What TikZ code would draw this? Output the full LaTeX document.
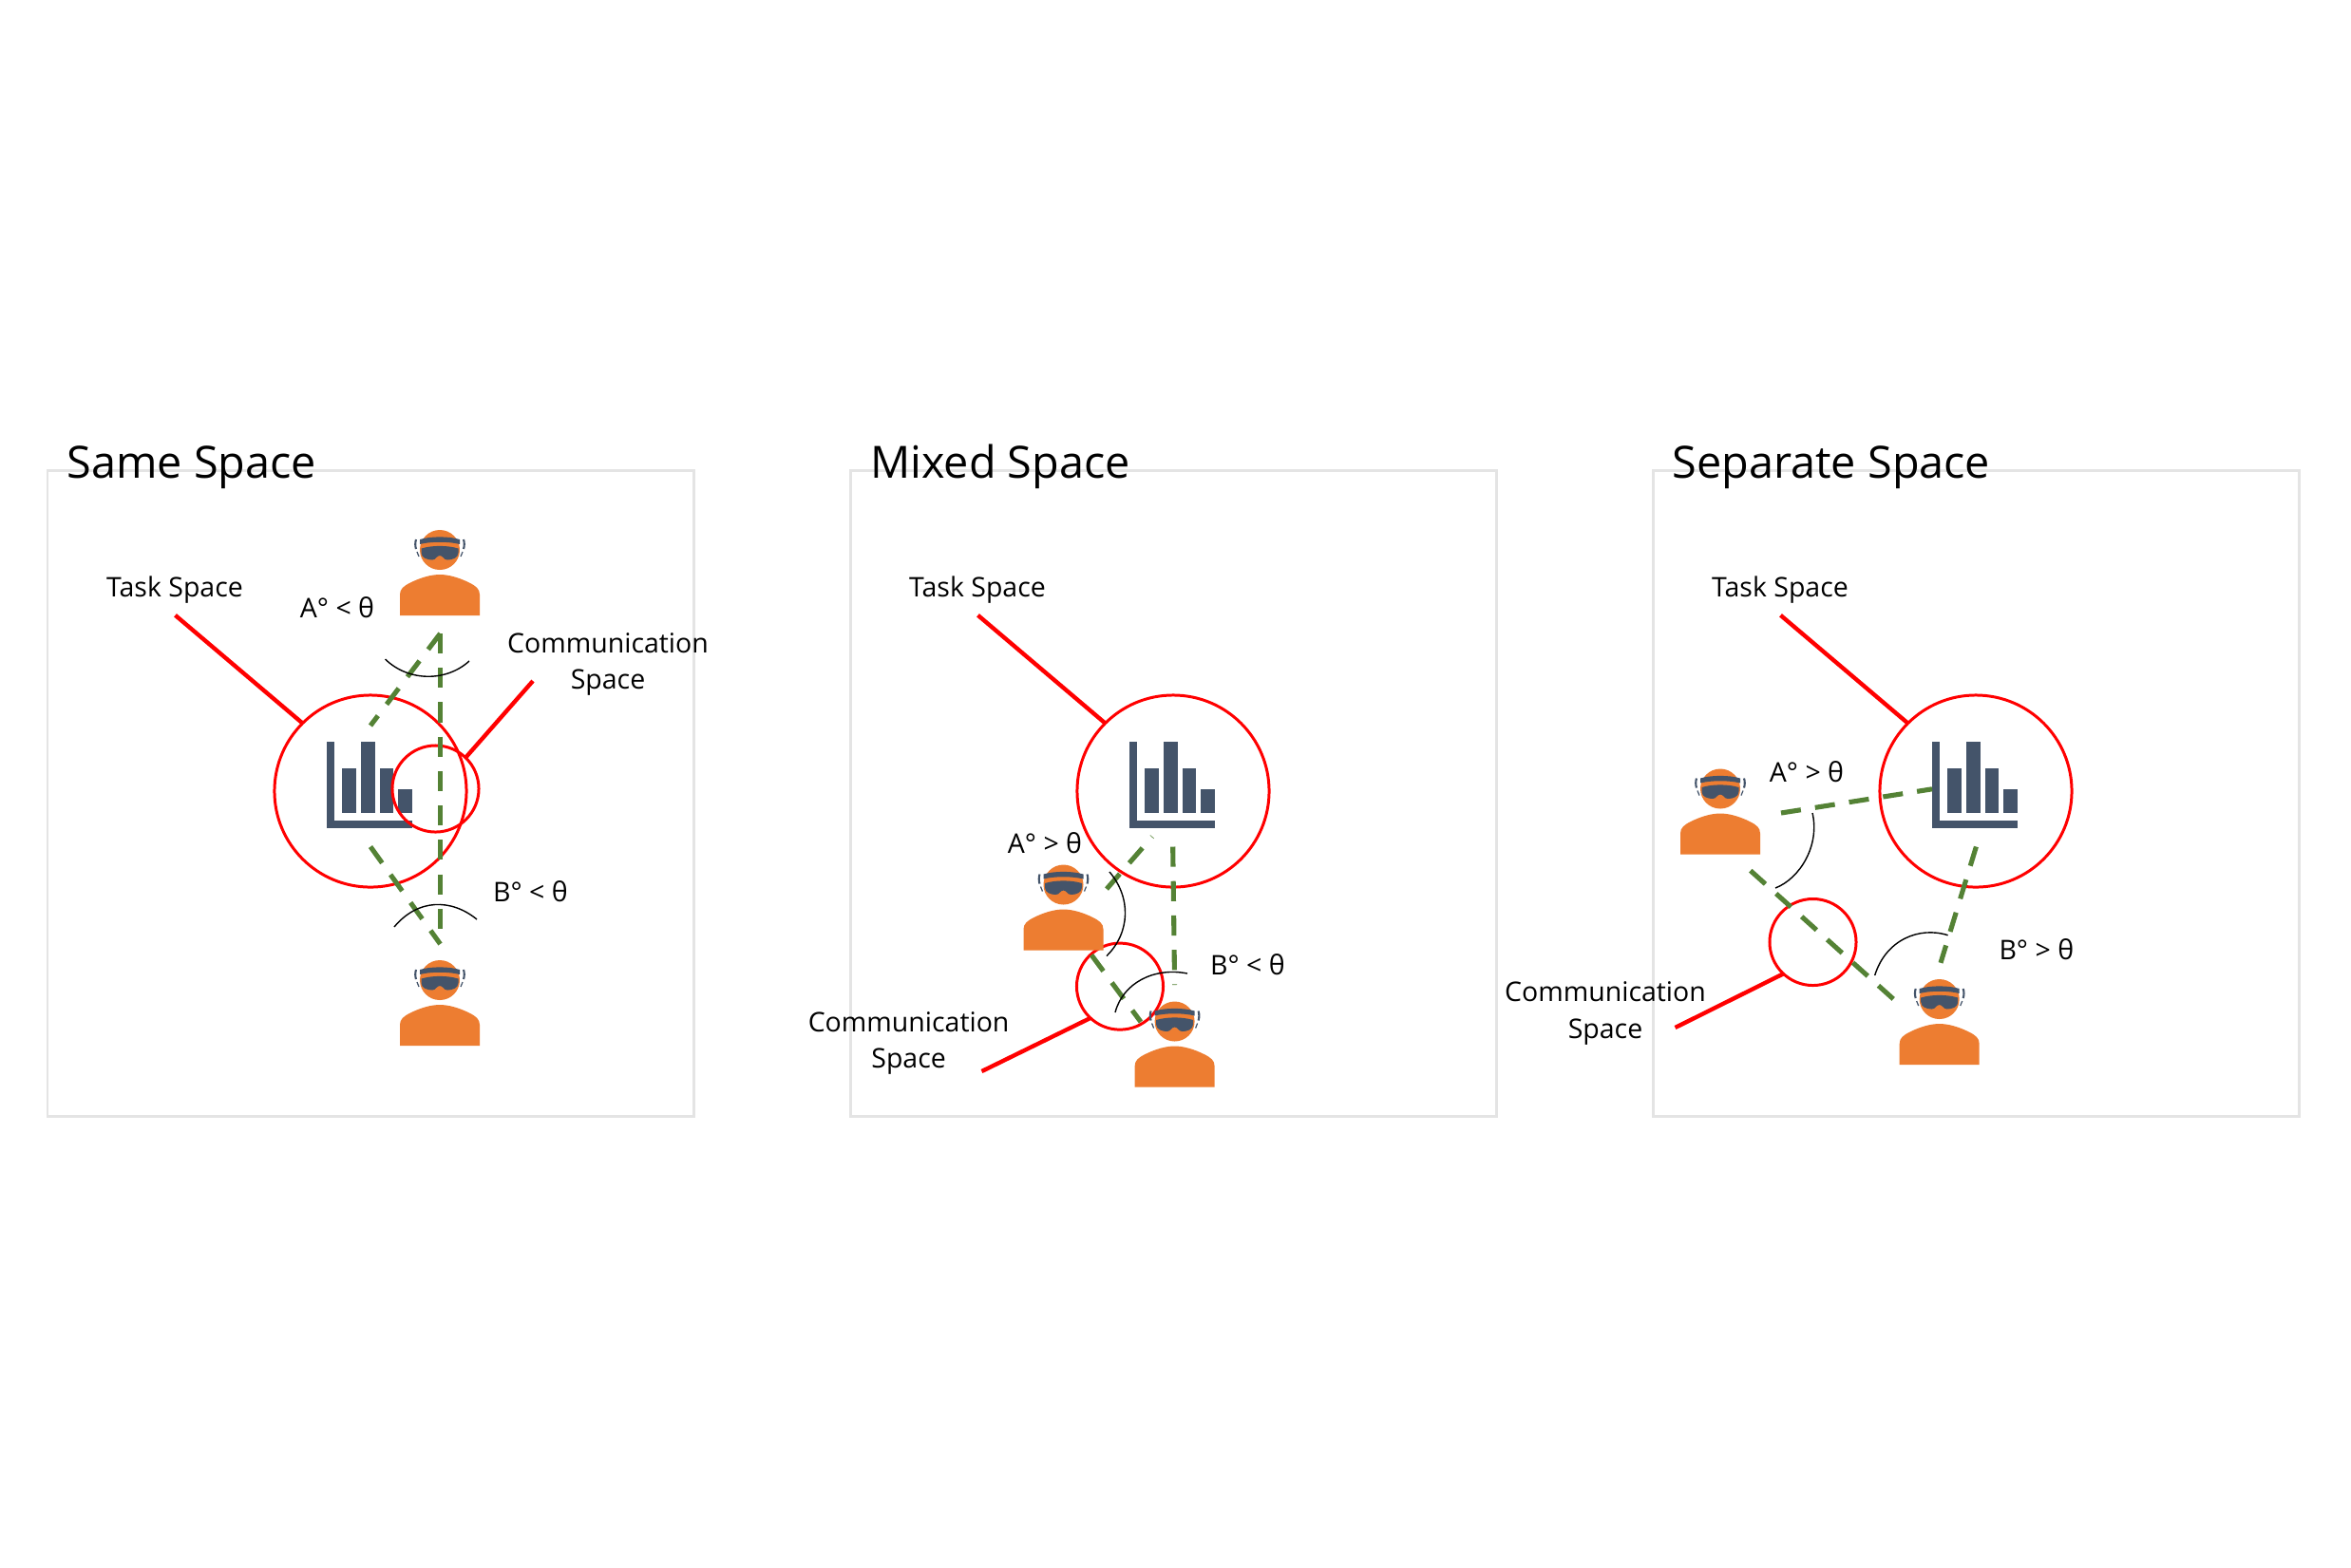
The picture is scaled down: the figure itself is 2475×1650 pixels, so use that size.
\documentclass[tikz,border=0pt]{standalone}
\usepackage{fontspec}
\setmainfont{Open Sans}
\definecolor{orangeP}{HTML}{ED7D31}
\definecolor{slateP}{HTML}{44546A}
\definecolor{greenP}{HTML}{548235}
\definecolor{grayP}{HTML}{E4E4E4}
\tikzset{
  panelbox/.style={draw=grayP,line width=0.85pt},
  titletext/.style={font=\fontsize{13.3}{16}\selectfont,anchor=base west,inner sep=0pt},
  labeltext/.style={font=\fontsize{8.1}{11.04}\selectfont,inner sep=0pt,align=center},
  anglelabel/.style={labeltext,anchor=base},
  spacecircle/.style={draw=red,line width=0.85pt,circle,inner sep=0pt,outer sep=0pt,fill=none},
  taskcircle/.style={spacecircle,minimum size=2.02cm},
  commcircle/.style={spacecircle,minimum size=0.91cm},
  leader/.style={draw=red,line width=1.25pt},
  gaze/.style={draw=greenP,line width=1.45pt,dash pattern=on 6pt off 4.3pt},
  anglearc/.style={draw=black,line width=0.4pt},
  person/.pic={
    \fill[orangeP] (-42,69) -- (-42,47) .. controls (-42,41) and (-38,38) .. (-31,34.5)
      .. controls (-20,29) and (-9,26) .. (0,26)
      .. controls (9,26) and (20,29) .. (31,34.5)
      .. controls (38,38) and (42,41) .. (42,47) -- (42,69) -- cycle;
    \fill[orangeP] (0,0) circle (21);
    \fill[slateP] (-21,-6) -- (-21,-11) .. controls (-10,-14.5) and (10,-14.5) .. (21,-11) -- (21,-6)
      .. controls (10,-9) and (-10,-9) .. (-21,-6) -- cycle;
    \fill[slateP] (-19.5,-1.5) .. controls (-8,-5) and (8,-5) .. (19.5,-1.5) -- (19.5,3)
      .. controls (19.5,8.5) and (13,10.5) .. (8,10.5) .. controls (4,10.5) and (3.5,6) .. (0,6)
      .. controls (-3.5,6) and (-4,10.5) .. (-8,10.5) .. controls (-13,10.5) and (-19.5,8.5) .. (-19.5,3) -- cycle;
    \draw[slateP,line width=0.6pt] (-25,-11) .. controls (-26,-8) and (-26,-4) .. (-25,-1);
    \draw[slateP,line width=0.6pt] (25,-11) .. controls (26,-8) and (26,-4) .. (25,-1);
    \draw[slateP,line width=0.35pt] (-24,2) -- (-22,7);
    \draw[slateP,line width=0.35pt] (24,2) -- (22,7);
  },
  barchart/.pic={
    \fill[slateP] (-46,-52) rectangle (-38,38.5);
    \fill[slateP] (-46,30.5) rectangle (44,38.5);
    \fill[slateP] (-30,-24) rectangle (-15.5,23);
    \fill[slateP] (-10,-52) rectangle (4.5,23);
    \fill[slateP] (9.5,-24) rectangle (24,23);
    \fill[slateP] (29,-2) rectangle (44,23);
  }
}
\begin{document}
\begin{tikzpicture}[x=0.01cm,y=-0.01cm]
\useasboundingbox[fill=white] (0,0) rectangle (2475,1650);

% ---------- Same Space ----------
\begin{scope}
  \draw[panelbox] (50,495) rectangle (730,1175);
  \node[titletext] (t1) at (70,503) {Same Space};
  \pic at (390,833) {barchart};
  \node[taskcircle] (task1) at (390,833) {};
  \node[commcircle] (comm1) at (458.5,830.5) {};
  \node[labeltext,anchor=base] (tasklab1) at (184,628.3) {Task Space};
  \coordinate (tl1) at (184.5,647.8);
  \draw[leader] (tl1) -- (task1.135);
  \node[labeltext] (commlab1) at (640,699.5) {Communication\\Space};
  \coordinate (cl1) at (561,717);
  \draw[leader] (cl1) -- (comm1.46);
  \coordinate (g1a) at (463.5,667);
  \coordinate (g1b) at (463.5,979);
  \coordinate (g1c) at (390,764);
  \coordinate (g1d) at (390,891.5);
  \coordinate (g1e) at (463.5,994);
  \draw[gaze] (g1a) -- (g1b);
  \draw[gaze] (g1a) -- (g1c);
  \draw[gaze] (g1d) -- (g1e);
  \draw[anglearc] (405.5,694) .. controls (430,718) and (470,718) .. (494,696);
  \draw[anglearc] (415,976) .. controls (440,946) and (475,946) .. (502,968);
  \node[anglelabel] (a1) at (355,650) {A° < θ};
  \node[anglelabel] (b1) at (558.5,949.7) {B° < θ};
  \pic at (463,579) {person};
  \pic at (463,1032) {person};
\end{scope}

% ---------- Mixed Space ----------
\begin{scope}[shift={(845,0)}]
  \draw[panelbox] (50,495) rectangle (730,1175);
  \node[titletext] (t2) at (70.5,503) {Mixed Space};
  \pic at (390,833) {barchart};
  \node[taskcircle] (task2) at (390,833) {};
  \node[commcircle] (comm2) at (334,1038.6) {};
  \node[labeltext,anchor=base] (tasklab2) at (184,628.3) {Task Space};
  \coordinate (tl2) at (184.5,647.8);
  \draw[leader] (tl2) -- (task2.135);
  \node[labeltext] (commlab2) at (111.6,1098.5) {Communication\\Space};
  \coordinate (cl2) at (188.5,1128);
  \draw[leader] (cl2) -- (comm2.227);
  \coordinate (g2a) at (320,936);
  \coordinate (g2b) at (368,881);
  \coordinate (g2c) at (304,1005.5);
  \coordinate (g2d) at (356,1076);
  \coordinate (g2e) at (389.7,891.5);
  \coordinate (g2f) at (391.6,1037);
  \draw[gaze] (g2a) -- (g2b);
  \draw[gaze] (g2c) -- (g2d);
  \draw[gaze] (g2e) -- (g2f);
  \pic at (274.5,931.5) {person};
  \pic at (391.6,1075.5) {person};
  \draw[anglearc] (323,918) .. controls (346,945) and (345,982) .. (320,1006.5);
  \draw[anglearc] (329,1066) .. controls (337,1035) and (370,1018) .. (405,1025);
  \node[anglelabel] (a2) at (255,898.7) {A° > θ};
  \node[anglelabel] (b2) at (468.4,1026) {B° < θ};
\end{scope}

% ---------- Separate Space ----------
\begin{scope}[shift={(1690,0)}]
  \draw[panelbox] (50,495) rectangle (730,1175);
  \node[titletext] (t3) at (70,503) {Separate Space};
  \pic at (390,833) {barchart};
  \node[taskcircle] (task3) at (390,833) {};
  \node[commcircle] (comm3) at (218.5,992) {};
  \node[labeltext,anchor=base] (tasklab3) at (184,628.3) {Task Space};
  \coordinate (tl3) at (184.5,647.8);
  \draw[leader] (tl3) -- (task3.135);
  \node[labeltext] (commlab3) at (0,1067) {Communication\\Space};
  \coordinate (cl3) at (73.5,1082);
  \draw[leader] (cl3) -- (comm3.227);
  \coordinate (g3a) at (185,856);
  \coordinate (g3b) at (344,830.8);
  \coordinate (g3c) at (152.8,916.7);
  \coordinate (g3d) at (304,1052.6);
  \coordinate (g3e) at (390.4,891.5);
  \coordinate (g3f) at (353,1013.8);
  \draw[gaze] (g3a) -- (g3b);
  \draw[gaze] (g3c) -- (g3d);
  \draw[gaze] (g3e) -- (g3f);
  \draw[anglearc] (218,856) .. controls (226,890) and (205,925) .. (179,935);
  \draw[anglearc] (360.6,984.7) .. controls (330,975) and (295,990) .. (283.7,1027);
  \node[anglelabel] (a3) at (212,823.5) {A° > θ};
  \node[anglelabel] (b3) at (453.8,1010.4) {B° > θ};
  \pic at (121,830.5) {person};
  \pic at (351.7,1052) {person};
\end{scope}
\end{tikzpicture}
\end{document}
